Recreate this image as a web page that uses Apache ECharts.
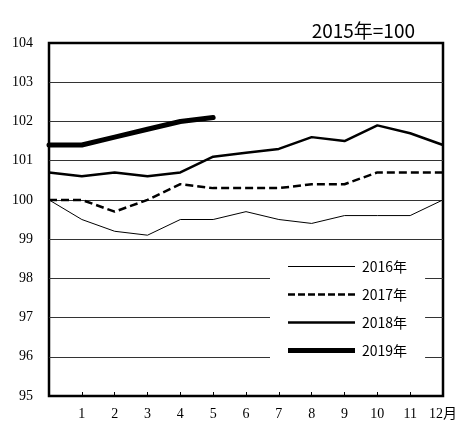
<!DOCTYPE html>
<html>
<head>
<meta charset="utf-8">
<script src="https://cdn.jsdelivr.net/npm/echarts@6/dist/echarts.min.js"></script>
<style>html,body{margin:0;padding:0;background:#fff;}#c{width:460px;height:423px;}</style>
</head>
<body>
<div id="c"></div>
<script>
// x positions: 0 = previous December, 1..12 = months
const months = [0,1,2,3,4,5,6,7,8,9,10,11,12];
const names = ['2016年','2017年','2018年','2019年'];
const v2016 = [100.0,99.5,99.2,99.1,99.5,99.5,99.7,99.5,99.4,99.6,99.6,99.6,100.0];
const v2017 = [100.0,100.0,99.7,100.0,100.4,100.3,100.3,100.3,100.4,100.4,100.7,100.7,100.7];
const v2018 = [100.7,100.6,100.7,100.6,100.7,101.1,101.2,101.3,101.6,101.5,101.9,101.7,101.4];
const v2019 = [101.4,101.4,101.6,101.8,102.0,102.1];
const yTicks = [95,96,97,98,99,100,101,102,103,104];

const pairs = vals => vals.map((v,i)=>[months[i], v]);
const serif = '"Liberation Serif", "Noto Sans CJK JP", serif';
const sans = '"Noto Sans CJK JP", "Noto Sans", sans-serif';

// legend icons: solid bar of given thickness, or dashed bar
const solidIcon = h => `path://M0 0H67V${h}H0Z`;
const dashedIcon = h => 'path://' + [0,10,20,30,40,50,60].map(x => `M${x} 0H${x+7}V${h}H${x}Z`).join(' ');

const chart = echarts.init(document.getElementById('c'));
chart.setOption({
  animation: false,
  backgroundColor: '#fff',
  title: {
    text: '2015年=100', right: 40, top: 16,
    textStyle: {fontFamily: sans, fontSize: 19, fontWeight: 'normal', color: '#000'}
  },
  legend: {
    data: [
      {name: names[0], icon: solidIcon(1)},
      {name: names[1], icon: dashedIcon(2.6)},
      {name: names[2], icon: solidIcon(2.6)},
      {name: names[3], icon: solidIcon(5)}
    ],
    orient: 'vertical', left: 270, top: 249,
    padding: [10, 18, 10, 18], itemGap: 13, itemWidth: 67, itemHeight: 14,
    backgroundColor: '#fff',
    itemStyle: {color: '#000', borderWidth: 0},
    textStyle: {fontFamily: sans, fontSize: 14, lineHeight: 15, color: '#000', padding: [0, 0, 0, 2]}
  },
  grid: {left: 49, right: 13, top: 43, bottom: 27, show: true, borderColor: '#000', borderWidth: 2.5, containLabel: false},
  xAxis: {
    type: 'value', min: 0, max: 12, interval: 1,
    axisLine: {show: false},
    axisTick: {show: true, inside: true, length: 4, lineStyle: {color: '#000'}},
    splitLine: {show: false},
    axisLabel: {
      margin: 11, color: '#000', fontFamily: serif, fontSize: 14,
      formatter: v => v === 0 ? '' : (v === 12 ? '12月' : String(v))
    }
  },
  yAxis: {
    type: 'value', min: yTicks[0], max: yTicks[yTicks.length-1], interval: 1,
    axisLine: {show: false}, axisTick: {show: false},
    splitLine: {show: true, showMinLine: false, showMaxLine: false, lineStyle: {color: '#333', width: 1}},
    axisLabel: {margin: 16, color: '#000', fontFamily: serif, fontSize: 14}
  },
  series: [
    {name: names[0], type: 'line', data: pairs(v2016), symbol: 'none', color: '#000', lineStyle: {width: 1, color: '#000'}, z: 2},
    {name: names[1], type: 'line', data: pairs(v2017), symbol: 'none', color: '#000', lineStyle: {width: 2.5, color: '#000', type: [8,4]}, z: 3},
    {name: names[2], type: 'line', data: pairs(v2018), symbol: 'none', color: '#000', lineStyle: {width: 2.5, color: '#000'}, z: 4},
    {name: names[3], type: 'line', data: pairs(v2019), symbol: 'none', color: '#000', lineStyle: {width: 5, color: '#000', cap: 'round'}, z: 5}
  ]
});
</script>
</body>
</html>
